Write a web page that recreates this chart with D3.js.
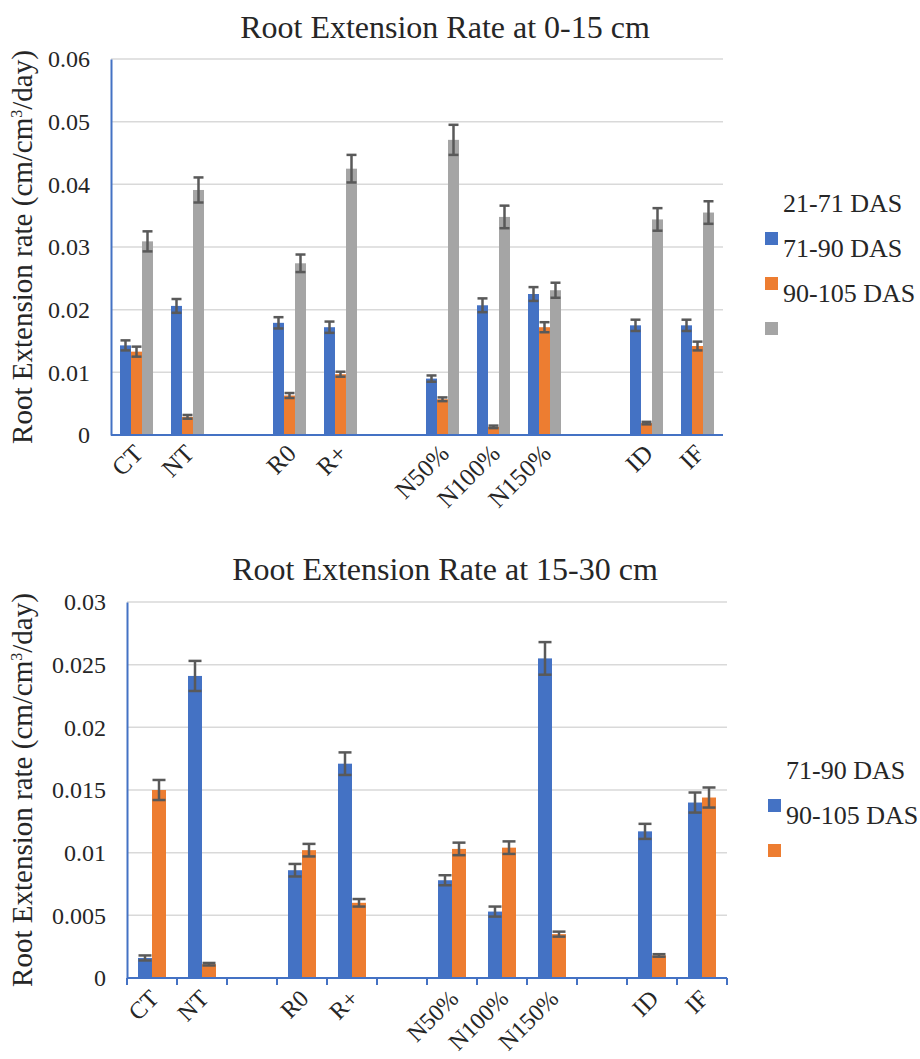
<!DOCTYPE html>
<html>
<head>
<meta charset="utf-8">
<script src="https://cdn.jsdelivr.net/npm/d3@7"></script>
<style>
  body { margin: 0; background: #fff; }
  svg text { fill: #262626; }
</style>
</head>
<body>
<svg id="chart" width="920" height="1059" font-family="'Liberation Serif', 'Times New Roman', serif"></svg>
<script>
// categories (empty slots are blank categories in the original sheet)
const categories = ['CT', 'NT', '', 'R0', 'R+', '', 'N50%', 'N100%', 'N150%', '', 'ID', 'IF'];

// 0-15 cm
const top2171 = [0.0143, 0.0206, null, 0.0179, 0.0172, null, 0.0090, 0.0207, 0.0225, null, 0.0175, 0.0175];
const top7190 = [0.0133, 0.0029, null, 0.0063, 0.0097, null, 0.0057, 0.0013, 0.0172, null, 0.0019, 0.0142];
const top90105 = [0.0309, 0.0391, null, 0.0274, 0.0425, null, 0.0471, 0.0348, 0.0231, null, 0.0344, 0.0355];
const topErr2171 = [0.0008, 0.0011, null, 0.0009, 0.0009, null, 0.0005, 0.0011, 0.0011, null, 0.0009, 0.0009];
const topErr7190 = [0.0008, 0.0003, null, 0.0004, 0.0004, null, 0.0003, 0.0002, 0.0008, null, 0.0002, 0.0007];
const topErr90105 = [0.0016, 0.0020, null, 0.0014, 0.0022, null, 0.0024, 0.0018, 0.0012, null, 0.0018, 0.0018];
const topTicks = [0, 0.01, 0.02, 0.03, 0.04, 0.05, 0.06];

// 15-30 cm
const bot7190 = [0.0016, 0.0241, null, 0.0086, 0.0171, null, 0.0078, 0.0053, 0.0255, null, 0.0117, 0.0140];
const bot90105 = [0.0150, 0.0011, null, 0.0102, 0.0060, null, 0.0103, 0.0104, 0.0035, null, 0.0018, 0.0144];
const botErr7190 = [0.0002, 0.0012, null, 0.0005, 0.0009, null, 0.0004, 0.0004, 0.0013, null, 0.0006, 0.0008];
const botErr90105 = [0.0008, 0.0001, null, 0.0005, 0.0003, null, 0.0005, 0.0005, 0.0002, null, 0.0001, 0.0008];
const botTicks = [0, 0.005, 0.01, 0.015, 0.02, 0.025, 0.03];

const BLUE = '#4472c4', ORANGE = '#ed7d31', GRAY = '#a5a5a5';
const FONT = "'Liberation Serif', 'Times New Roman', serif";

const svg = d3.select('#chart');

function drawChart(opt) {
  const x = d3.scaleBand().domain(d3.range(categories.length)).range([opt.left, opt.right]);
  const y = d3.scaleLinear().domain([0, d3.max(opt.ticks)]).range([opt.bottom, opt.top]);
  const g = svg.append('g');

  // title
  g.append('text')
    .attr('x', opt.titleX).attr('y', opt.titleY)
    .attr('text-anchor', 'middle')
    .style('font-family', FONT)
    .style('font-size', '32px')
    .text(opt.title);

  // gridlines
  g.append('g').selectAll('line')
    .data(opt.ticks.filter(t => t > 0))
    .join('line')
    .attr('x1', opt.left).attr('x2', opt.right)
    .attr('y1', d => y(d)).attr('y2', d => y(d))
    .attr('stroke', '#d9d9d9').attr('stroke-width', 1.5);

  // y axis
  const yAxis = d3.axisLeft(y).tickValues(opt.ticks).tickSize(0).tickPadding(21)
    .tickFormat(d => d === 0 ? '0' : String(+d.toFixed(3)));
  const ya = g.append('g').attr('transform', `translate(${opt.left},0)`).call(yAxis);
  ya.attr('font-family', FONT);
  ya.select('.domain').attr('stroke', BLUE).attr('stroke-width', 2);
  ya.selectAll('text').style('font-family', FONT).style('font-size', '24px').attr('fill', '#262626');

  // bars
  const n = opt.series.length;
  const bw = opt.barWidth;
  opt.series.forEach((s, si) => {
    const off = (si - n / 2) * bw;
    const pts = s.values.map((v, i) => ({ i, v, e: s.errors[i] })).filter(d => d.v != null);
    g.append('g').selectAll('rect')
      .data(pts)
      .join('rect')
      .attr('x', d => x(d.i) + x.bandwidth() / 2 + off)
      .attr('width', bw)
      .attr('y', d => y(d.v))
      .attr('height', d => y(0) - y(d.v))
      .attr('fill', s.color);
    s.pts = pts;
    s.off = off;
  });

  // error bars drawn on top
  opt.series.forEach(s => {
    const eg = g.append('g').attr('stroke', '#595959').attr('stroke-width', 2.5);
    s.pts.forEach(d => {
      const cx = x(d.i) + x.bandwidth() / 2 + s.off + bw / 2;
      const y1 = y(d.v + d.e), y2 = y(d.v - d.e);
      eg.append('line').attr('x1', cx).attr('x2', cx).attr('y1', y1).attr('y2', y2);
      eg.append('line').attr('x1', cx - bw / 2 + 0.5).attr('x2', cx + bw / 2 - 0.5).attr('y1', y1).attr('y2', y1);
      eg.append('line').attr('x1', cx - bw / 2 + 0.5).attr('x2', cx + bw / 2 - 0.5).attr('y1', y2).attr('y2', y2);
    });
  });

  // x axis
  g.append('line')
    .attr('x1', opt.left).attr('x2', opt.right)
    .attr('y1', y(0)).attr('y2', y(0))
    .attr('stroke', BLUE).attr('stroke-width', 2);
  if (opt.xTicks) {
    g.append('g').selectAll('line')
      .data(d3.range(categories.length + 1))
      .join('line')
      .attr('x1', i => opt.left + i * x.step()).attr('x2', i => opt.left + i * x.step())
      .attr('y1', y(0)).attr('y2', y(0) + 7)
      .attr('stroke', BLUE).attr('stroke-width', 2);
  }
  g.append('g').selectAll('text')
    .data(categories.map((c, i) => ({ c, i })).filter(d => d.c))
    .join('text')
    .attr('transform', d => `translate(${x(d.i) + x.bandwidth() / 2 + 8},${y(0) + opt.labelDy}) rotate(-45)`)
    .attr('text-anchor', 'end')
    .style('font-family', FONT)
    .style('font-size', opt.labelSize + 'px')
    .text(d => d.c);

  // y label
  const yl = g.append('text')
    .attr('transform', `translate(${opt.yLabelX},${(opt.top + opt.bottom) / 2}) rotate(-90)`)
    .attr('text-anchor', 'middle')
    .style('font-family', FONT)
    .style('font-size', '29px');
  yl.append('tspan').text('Root Extension rate (cm/cm');
  yl.append('tspan').attr('dy', -10).style('font-size', '16px').text('3');
  yl.append('tspan').attr('dy', 10).text('/day)');

  // legend: labels and swatches are offset as in the original
  const lg = g.append('g');
  opt.legendLabels.forEach((t, i) => {
    lg.append('text')
      .attr('x', opt.legendX + 18).attr('y', opt.legendY + i * 45)
      .style('font-family', FONT)
      .style('font-size', '26px')
      .text(t);
  });
  opt.series.forEach((s, i) => {
    lg.append('rect')
      .attr('x', opt.legendX).attr('y', opt.legendY + 20 + i * 45)
      .attr('width', 13).attr('height', 13)
      .attr('fill', s.color);
  });
}

drawChart({
  title: 'Root Extension Rate at 0-15 cm', titleX: 445, titleY: 38,
  left: 111, right: 723, top: 59, bottom: 435,
  ticks: topTicks, barWidth: 11, xTicks: false, labelDy: 20, labelSize: 25, yLabelX: 32,
  series: [
    { values: top2171, errors: topErr2171, color: BLUE },
    { values: top7190, errors: topErr7190, color: ORANGE },
    { values: top90105, errors: topErr90105, color: GRAY }
  ],
  legendLabels: ['21-71 DAS', '71-90 DAS', '90-105 DAS'],
  legendX: 765, legendY: 212
});

drawChart({
  title: 'Root Extension Rate at 15-30 cm', titleX: 445, titleY: 580,
  left: 127, right: 727, top: 602, bottom: 978,
  ticks: botTicks, barWidth: 14, xTicks: true, labelDy: 22, labelSize: 24, yLabelX: 32,
  series: [
    { values: bot7190, errors: botErr7190, color: BLUE },
    { values: bot90105, errors: botErr90105, color: ORANGE }
  ],
  legendLabels: ['71-90 DAS', '90-105 DAS'],
  legendX: 768, legendY: 779
});
</script>
</body>
</html>
